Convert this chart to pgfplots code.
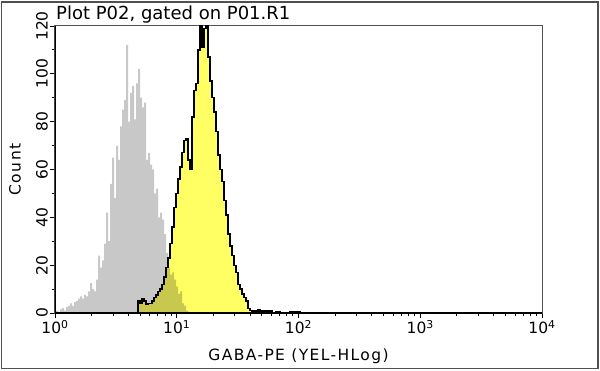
\documentclass[border=0pt]{standalone}
\usepackage{fontspec}
\setmainfont{DejaVu Sans}
\newfontfamily\lsfont[LetterSpace=9]{DejaVu Sans}
\usepackage{pgfplots}
\usepackage{pgfplotstable}
\pgfplotsset{compat=1.18}
\definecolor{greyfill}{RGB}{200,200,200}
\definecolor{yelfill}{RGB}{255,255,100}
\definecolor{framegray}{RGB}{80,80,80}

% x in decades (log10 of intensity), y = count
\pgfplotstableread{
x y
0.0000 1
0.0247 0.5
0.0411 1.5
0.0575 2
0.0740 1
0.0904 2.5
0.1068 3
0.1233 4
0.1397 3
0.1561 4.5
0.1726 5
0.1890 6
0.2054 7
0.2219 6
0.2383 7.5
0.2547 7
0.2712 9
0.2876 12.5
0.3040 10
0.3205 9
0.3369 14
0.3533 24
0.3698 19
0.3862 22
0.4026 29
0.4191 42
0.4355 30
0.4519 54
0.4684 65
0.4848 48
0.5012 70
0.5177 64
0.5341 78
0.5505 85
0.5670 89
0.5834 112
0.5998 80
0.6163 92
0.6327 95
0.6491 81
0.6656 96
0.6820 102
0.6984 90
0.7149 86
0.7313 88
0.7477 64
0.7642 67
0.7806 62
0.7970 60
0.8135 50
0.8299 52
0.8463 40
0.8628 42
0.8792 39
0.8956 33
0.9121 25
0.9285 19
0.9449 16
0.9614 17
0.9778 14
0.9942 11
1.0107 8
1.0271 9
1.0435 4
1.0600 3
1.0764 1
1.0929 0.5
1.1093 0
}\greydata

\pgfplotstableread{
x y
0.6656 0
0.6820 5
0.6984 4
0.7149 6
0.7313 5
0.7477 3.5
0.7642 4
0.7806 4
0.7970 5
0.8135 6.5
0.8299 7.5
0.8463 9
0.8628 10
0.8792 12
0.8956 15
0.9121 19
0.9285 23
0.9449 29
0.9614 36
0.9778 44
0.9942 50
1.0107 56
1.0271 61
1.0435 67
1.0600 72
1.0764 73
1.0929 64
1.1093 60
1.1257 82
1.1422 93
1.1586 96
1.1750 110
1.1915 122
1.2079 111
1.2243 119
1.2408 121
1.2572 107
1.2736 97
1.2901 90
1.3065 84
1.3229 76
1.3394 66
1.3558 60
1.3722 55
1.3887 47
1.4051 41
1.4215 33
1.4380 28
1.4544 24
1.4708 20
1.4873 17
1.5037 12
1.5201 10
1.5366 8
1.5530 6.5
1.5694 5
1.5859 2
1.6023 1
1.6187 0
1.6352 1
1.6516 0.5
1.6680 1.5
1.6845 0.5
1.7009 1
1.7173 0
1.7338 1
1.7502 0.5
1.7666 1
1.7831 0
1.8160 0.5
1.8488 0
1.9310 0.5
2.0131 0
}\yeldata

\begin{document}
\begin{tikzpicture}[x=1pt,y=1pt]
\path[use as bounding box] (0,0) rectangle (600,370);
\draw[framegray, line width=1.5pt] (1.5,1.5) rectangle (598,368);
\node[anchor=base west, font=\fontsize{18}{21}\selectfont, inner sep=0pt] at (56,350) {Plot P02, gated on P01.R1};
\begin{axis}[
  at={(55pt,57pt)}, anchor=south west,
  scale only axis, width=487pt, height=287pt,
  xmin=0, xmax=4, ymin=0, ymax=120,
  xtick={0,1,2,3,4},
  xticklabels={10\textsuperscript{0},10\textsuperscript{1},10\textsuperscript{2},10\textsuperscript{3},10\textsuperscript{4}},
  minor xtick={0.30103,0.47712,0.60206,0.69897,0.77815,0.84510,0.90309,0.95424,
               1.30103,1.47712,1.60206,1.69897,1.77815,1.84510,1.90309,1.95424,
               2.30103,2.47712,2.60206,2.69897,2.77815,2.84510,2.90309,2.95424,
               3.30103,3.47712,3.60206,3.69897,3.77815,3.84510,3.90309,3.95424},
  ytick={0,20,40,60,80,100,120},
  minor ytick={10,30,50,70,90,110},
  tick align=outside, xtick pos=bottom, ytick pos=left,
  major tick length=5pt, minor tick length=3pt,
  tick style={black, line width=0.9pt},
  axis line style={framegray, line width=1pt},
  /pgf/number format/assume math mode=true,
  xticklabel style={font=\fontsize{15.5}{18}\selectfont, inner sep=2pt},
  yticklabel style={font=\fontsize{15.5}{18}\selectfont, rotate=90, anchor=south, inner sep=2pt},
  xlabel={\lsfont GABA-PE (YEL-HLog)},
  xlabel style={font=\fontsize{15.5}{18}\selectfont, at={(axis description cs:0.5,-0.167)}, anchor=base},
  ylabel={\lsfont Count},
  ylabel style={font=\fontsize{15.5}{18}\selectfont, at={(axis description cs:-0.082,0.5)}, anchor=center},
]
\addplot[const plot, fill=greyfill, draw=none] table[x=x,y=y] {\greydata} \closedcycle;
\addplot[const plot, fill=yelfill, draw=none, blend mode=multiply] table[x=x,y=y] {\yeldata} \closedcycle;
\addplot[const plot, draw=black, line width=1.3pt] table[x=x,y=y] {\yeldata};
\draw[black, line width=1.8pt] (rel axis cs:0,1) -- (rel axis cs:0,0) -- (rel axis cs:1,0);
\end{axis}
\end{tikzpicture}
\end{document}
